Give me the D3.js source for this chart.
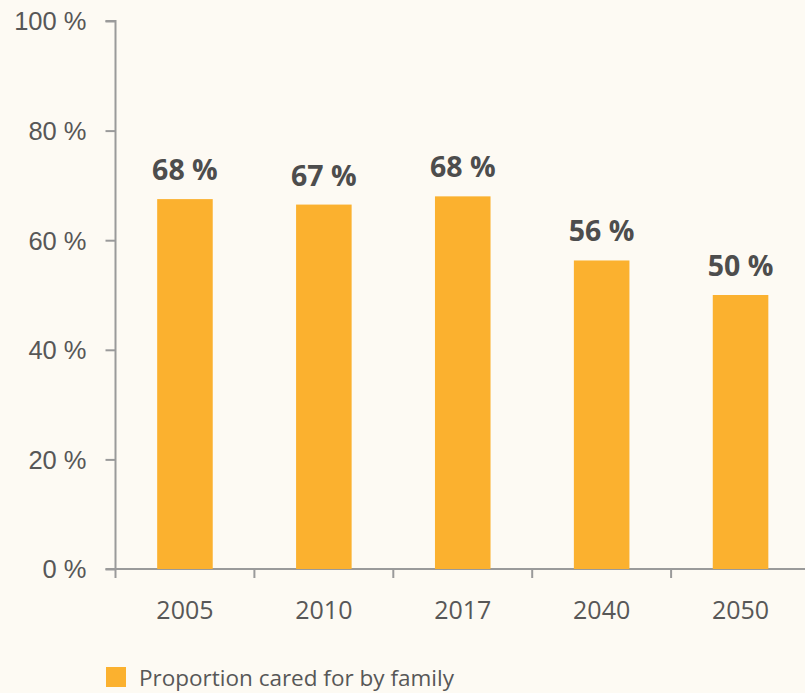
<!DOCTYPE html>
<html>
<head>
<meta charset="utf-8">
<script src="https://cdn.jsdelivr.net/npm/d3@7"></script>
<style>
  html, body { margin: 0; padding: 0; background: #fdfaf3; }
  svg { display: block; font-family: "Open Sans", sans-serif; }
</style>
</head>
<body>
<div id="chart"></div>
<script>
"use strict";

let years = ["2005", "2010", "2017", "2040", "2050"];
let shares = [67.5, 66.5, 68, 56.3, 50];
let shareLabels = ["68 %", "67 %", "68 %", "56 %", "50 %"];
let yTicks = [0, 20, 40, 60, 80, 100];
let seriesName = "Proportion cared for by family";

let width = 805, height = 693;
let margin = { top: 21, bottom: 124, left: 115.5, right: -5 };

let svg = d3.select("#chart")
  .append("svg")
  .attr("width", width)
  .attr("height", height);

svg.append("rect")
  .attr("width", width)
  .attr("height", height)
  .attr("fill", "#fdfaf3");

let yScale = d3.scaleLinear()
  .domain([0, 100])
  .range([height - margin.bottom, margin.top]);

// bands without padding give the tick positions between categories
let xBand = d3.scaleBand()
  .domain(years)
  .range([margin.left, width - margin.right]);

let xBar = d3.scaleBand()
  .domain(years)
  .range([margin.left, width - margin.right])
  .paddingInner(0.6)
  .paddingOuter(0.3);

let axisColor = "#9a9a9a";
let textColor = "#575757";

// y axis
let yAxis = d3.axisLeft(yScale)
  .tickValues(yTicks)
  .tickSize(10)
  .tickPadding(19)
  .tickFormat(d => d + " %");

let yG = svg.append("g")
  .attr("transform", "translate(" + margin.left + ",0)")
  .call(yAxis);

yG.select(".domain")
  .attr("stroke", axisColor)
  .attr("stroke-width", 2)
  .attr("d", "M-10," + yScale(100) + "H0V" + yScale(0));
yG.selectAll(".tick line").attr("stroke", axisColor).attr("stroke-width", 2);
yG.selectAll(".tick text")
  .attr("fill", textColor)
  .attr("font-size", 25.5)
  .attr("dy", "0.35em");

// x axis
let xG = svg.append("g")
  .attr("transform", "translate(0," + yScale(0) + ")");

xG.append("line")
  .attr("x1", margin.left - 10)
  .attr("x2", width)
  .attr("stroke", axisColor)
  .attr("stroke-width", 2);

xG.selectAll(".xtick")
  .data(years.concat(["end"]))
  .enter().append("line")
  .attr("class", "xtick")
  .attr("x1", (d, i) => margin.left + i * xBand.step())
  .attr("x2", (d, i) => margin.left + i * xBand.step())
  .attr("y1", 0)
  .attr("y2", 9)
  .attr("stroke", axisColor)
  .attr("stroke-width", 2);

xG.selectAll(".xlabel")
  .data(years)
  .enter().append("text")
  .attr("class", "xlabel")
  .attr("x", d => xBand(d) + xBand.bandwidth() / 2)
  .attr("y", 50)
  .attr("text-anchor", "middle")
  .attr("fill", textColor)
  .attr("font-size", 25)
  .text(d => d);

// bars
svg.append("g")
  .selectAll("rect")
  .data(years)
  .enter().append("rect")
  .attr("x", d => xBar(d))
  .attr("width", xBar.bandwidth())
  .attr("y", (d, i) => yScale(shares[i]))
  .attr("height", (d, i) => yScale(0) - yScale(shares[i]))
  .attr("fill", "#fbb12f");

// value labels
svg.append("g")
  .selectAll("text")
  .data(years)
  .enter().append("text")
  .attr("x", d => xBar(d) + xBar.bandwidth() / 2)
  .attr("y", (d, i) => yScale(shares[i]) - 19)
  .attr("text-anchor", "middle")
  .attr("font-size", 28.5)
  .attr("font-weight", "bold")
  .attr("fill", "#4d4d4d")
  .text((d, i) => shareLabels[i]);

// legend
let legend = svg.append("g")
  .attr("transform", "translate(106,667)");

legend.append("rect")
  .attr("width", 20)
  .attr("height", 20)
  .attr("fill", "#fbb12f");

legend.append("text")
  .attr("x", 33)
  .attr("y", 18.5)
  .attr("fill", textColor)
  .attr("font-size", 22.5)
  .text(seriesName);
</script>
</body>
</html>
